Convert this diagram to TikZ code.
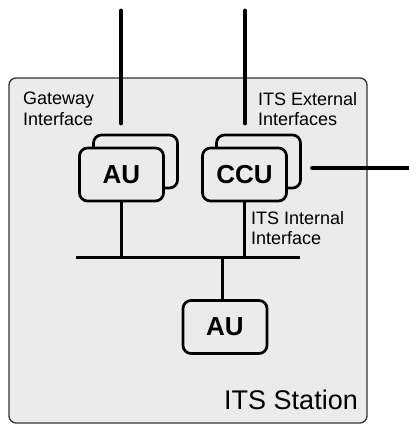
\documentclass[tikz,border=0pt]{standalone}
\usepackage{fontspec}
\setmainfont{Liberation Sans}
\usepackage{tikz}
\usetikzlibrary{calc,positioning}
\definecolor{stationgray}{HTML}{EBEBEB}

\begin{document}
\begin{tikzpicture}[x=1pt,y=-1pt]
    \tikzset{station/.style={draw=black!80, line width=1.3pt, fill=stationgray, rounded corners=7pt},
        unit/.style={draw, line width=2.7pt, fill=stationgray, rounded corners=8pt,
            minimum width=84pt, minimum height=53pt, inner sep=0pt,
            font=\fontsize{26}{28}\selectfont\bfseries},
        wire/.style={line width=4.8pt, line cap=round},
        link/.style={line width=3pt},
        label/.style={inner sep=0pt, align=left, font=\fontsize{18}{20.5}\selectfont},}
    \useasboundingbox (0,0) rectangle (409,426);
    \draw[station] (9,78) rectangle (367,423);
    % units
    \node[unit] (auback) at (135.5,161.5) {};
    \node[unit] (au) at (121.5,174.5) {AU};
    \node[unit] (ccuback) at (258.5,161.5) {};
    \node[unit] (ccu) at (244.5,174.5) {CCU};
    \node[unit] (aulow) at (225,327) {AU};
    % wires and bus
    \coordinate (gwtop) at (121,11);
    \coordinate (gwend) at (121,123);
    \coordinate (extop) at (245,11);
    \coordinate (exend) at (245,123);
    \coordinate (exside) at (312.5,168);
    \coordinate (exright) at (412,168);
    \coordinate (busL) at (76,257);
    \coordinate (busR) at (300,257);
    \coordinate (busAU) at (222,257);
    \draw[wire] (gwtop) -- (gwend);
    \draw[wire] (extop) -- (exend);
    \draw[wire] (exside) -- (exright);
    \draw[link] (busL) -- (busR);
    \draw[link] (au.south) -- (au.south |- busL);
    \draw[link] (ccu.south) -- (ccu.south |- busL);
    \draw[link] (busAU) -- (busAU |- aulow.north);
    % labels
    \node[label, anchor=north west] (gwlabel) at (23,92) {Gateway\\Interface};
    \node[label, anchor=north west] (exlabel) at (258,92) {ITS External\\Interfaces};
    \node[label, anchor=north west] (inlabel) at (251,211) {ITS Internal\\Interface};
    \node[inner sep=0pt, anchor=base east, font=\fontsize{27}{30}\selectfont] (stlabel) at (358,409) {ITS Station};
\end{tikzpicture}
\end{document}
